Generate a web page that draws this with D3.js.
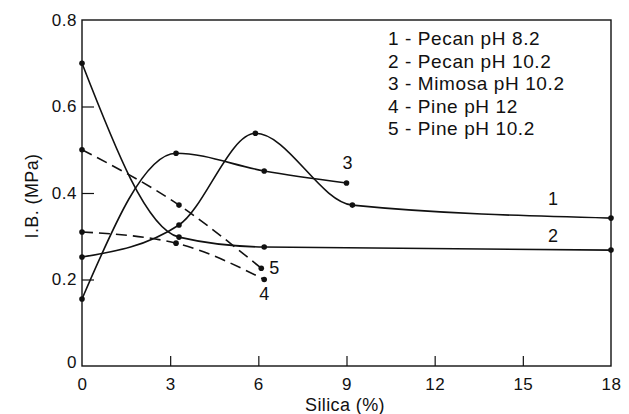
<!DOCTYPE html>
<html><head><meta charset="utf-8">
<script src="https://cdn.jsdelivr.net/npm/d3@7"></script>
<style>body{margin:0;background:#fff}svg{display:block}text{font-family:"Liberation Sans",Arial,sans-serif;fill:#111}</style>
</head><body><svg id="c" width="629" height="414"></svg>
<script>
const xTicks = [0, 3, 6, 9, 12, 15, 18];
const yTicks = [0, 0.2, 0.4, 0.6, 0.8];
const yTickLabels = ["0", "0.2", "0.4", "0.6", "0.8"];
const legendLabels = ["1 - Pecan pH 8.2", "2 - Pecan pH 10.2", "3 - Mimosa pH 10.2", "4 - Pine pH 12", "5 - Pine pH 10.2"];
const s1x = [0, 3.3, 5.9, 9.2, 18];
const s1y = [0.252, 0.326, 0.538, 0.372, 0.342];
const s2x = [0, 3.3, 6.2, 18];
const s2y = [0.70, 0.298, 0.275, 0.268];
const s3x = [0, 3.2, 6.2, 9];
const s3y = [0.155, 0.492, 0.451, 0.423];
const s4x = [0, 3.2, 6.2];
const s4y = [0.31, 0.284, 0.20];
const s5x = [0, 3.3, 6.1];
const s5y = [0.50, 0.372, 0.226];

const svg = d3.select("#c");
const L = 82, R = 611, T = 20, B = 366;
const x = d3.scaleLinear().domain([0, 18]).range([L, R]);
const y = d3.scaleLinear().domain([0, 0.8]).range([B, T]);

// frame
svg.append("rect").attr("x", L).attr("y", T).attr("width", R - L).attr("height", B - T)
  .attr("fill", "none").attr("stroke", "#111").attr("stroke-width", 1.4);

// axes
const gx = svg.append("g").attr("transform", `translate(0,${B})`)
  .call(d3.axisBottom(x).tickValues(xTicks).tickSize(-10).tickPadding(12).tickFormat(d3.format("d")));
const gy = svg.append("g").attr("transform", `translate(${L},0)`)
  .call(d3.axisLeft(y).tickValues(yTicks).tickSize(-12).tickPadding(5).tickFormat((d, i) => yTickLabels[i]));
[gx, gy].forEach(g => {
  g.select(".domain").remove();
  g.selectAll(".tick line").attr("stroke", "#111").attr("stroke-width", 1.2);
  g.selectAll(".tick text").style("font-size", "17px").style("letter-spacing", "0.5px").attr("fill", "#111");
});
gx.selectAll(".tick").filter(d => d === 0 || d === 18).select("line").remove();
gy.selectAll(".tick").filter(d => d === 0 || d === 0.8).select("line").remove();
gy.selectAll(".tick").filter(d => d === 0).select("text").attr("dy", "0.1em");

// axis titles
svg.append("text").attr("x", 345).attr("y", 411).attr("text-anchor", "middle")
  .style("font-size", "18px").style("letter-spacing", "0.4px").text("Silica (%)");
svg.append("text").attr("transform", "translate(38,196) rotate(-90)").attr("text-anchor", "middle")
  .style("font-size", "18px").style("letter-spacing", "0.4px").text("I.B. (MPa)");

// series
const series = [
  {xs: s1x, ys: s1y, dash: null},
  {xs: s2x, ys: s2y, dash: null},
  {xs: s3x, ys: s3y, dash: null},
  {xs: s4x, ys: s4y, dash: "11,6"},
  {xs: s5x, ys: s5y, dash: "11,6"}
];
const line = d3.line().x(d => x(d[0])).y(d => y(d[1])).curve(d3.curveMonotoneX);
series.forEach(s => {
  const pts = s.xs.map((v, i) => [v, s.ys[i]]);
  svg.append("path").attr("d", line(pts)).attr("fill", "none").attr("stroke", "#111")
    .attr("stroke-width", 1.6).attr("stroke-dasharray", s.dash);
  svg.selectAll(null).data(pts).enter().append("circle")
    .attr("cx", d => x(d[0])).attr("cy", d => y(d[1])).attr("r", 2.8).attr("fill", "#111");
});

// curve number labels
const numLabels = [
  {t: "1", sx: 0, i: 4, dx: -58, dy: -13},
  {t: "2", sx: 1, i: 3, dx: -58, dy: -8},
  {t: "3", sx: 2, i: 3, dx: 1, dy: -14},
  {t: "4", sx: 3, i: 2, dx: 0, dy: 20},
  {t: "5", sx: 4, i: 2, dx: 13, dy: 6}
];
numLabels.forEach(n => {
  const s = series[n.sx];
  svg.append("text").attr("x", x(s.xs[n.i]) + n.dx).attr("y", y(s.ys[n.i]) + n.dy)
    .attr("text-anchor", "middle").style("font-size", "18px").text(n.t);
});

// legend
svg.selectAll(".leg").data(legendLabels).enter().append("text")
  .attr("x", 388).attr("y", (d, i) => 45 + i * 22.5)
  .style("font-size", "19px").style("letter-spacing", "0.6px").text(d => d);
</script></body></html>
